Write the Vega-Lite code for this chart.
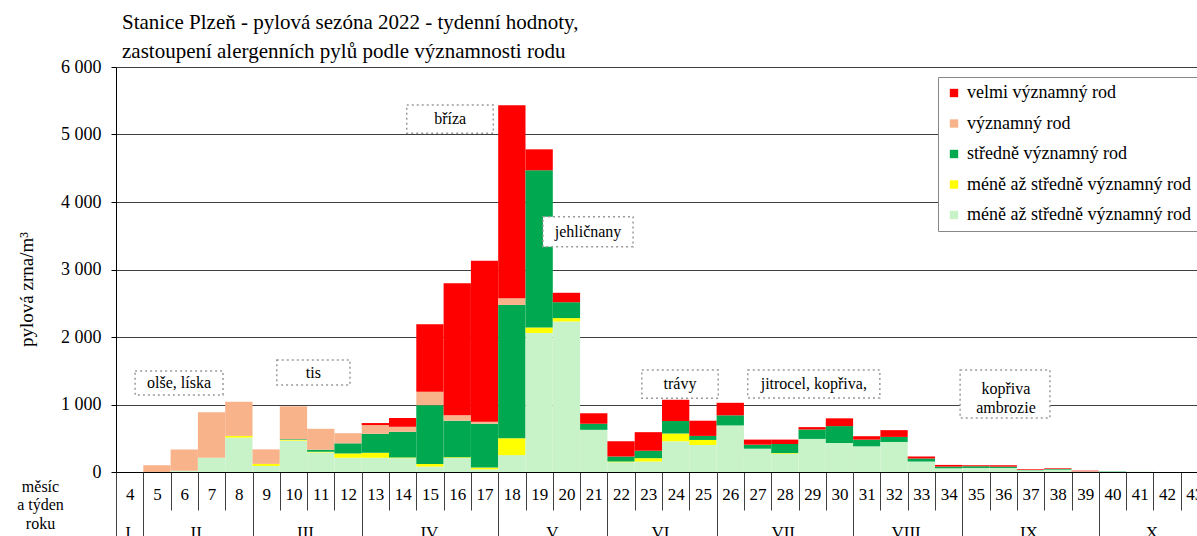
{
  "$schema": "https://vega.github.io/schema/vega-lite/v6.json",
  "autosize": {"type": "none"},
  "width": 1092,
  "height": 405,
  "padding": {"left": 116, "top": 67, "right": 0, "bottom": 64},
  "background": "white",
  "config": {
    "view": {"stroke": null},
    "font": "Liberation Serif",
    "axis": {"labelFont": "Liberation Serif", "titleFont": "Liberation Serif", "labelColor": "#000", "titleColor": "#000", "titleFontWeight": "normal"},
    "axisY": {
      "grid": true, "gridColor": "#404040", "gridWidth": 1,
      "tickSize": 5, "tickColor": "#000", "domainColor": "#000",
      "labelPadding": 10, "labelFontSize": 18,
      "titleFontSize": 19, "titleX": -84, "titleY": 222, "titleAngle": 270,
      "titleAlign": "center", "titleBaseline": "alphabetic"
    }
  },
  "title": {
    "text": ["Stanice Plzeň - pylová sezóna 2022 - tydenní hodnoty,", "zastoupení alergenních pylů podle významnosti rodu"],
    "anchor": "start", "frame": "group", "font": "Liberation Serif", "fontSize": 21, "fontWeight": "normal",
    "color": "#000", "dx": 6, "dy": 4, "offset": 0, "lineHeight": 29
  },
  "resolve": {"scale": {"x": "independent"}, "axis": {"x": "independent"}},
  "layer": [
    {
      "data": {"values": [
        {"w":4,"k1":0,"k2":0,"k3":0,"k4":0,"k5":0},
        {"w":5,"k1":0,"k2":0,"k3":0,"k4":100,"k5":0},
        {"w":6,"k1":20,"k2":0,"k3":0,"k4":315,"k5":0},
        {"w":7,"k1":210,"k2":0,"k3":0,"k4":675,"k5":0},
        {"w":8,"k1":510,"k2":25,"k3":0,"k4":505,"k5":0},
        {"w":9,"k1":90,"k2":30,"k3":0,"k4":215,"k5":0},
        {"w":10,"k1":465,"k2":10,"k3":10,"k4":490,"k5":0},
        {"w":11,"k1":290,"k2":10,"k3":30,"k4":310,"k5":0},
        {"w":12,"k1":210,"k2":65,"k3":150,"k4":150,"k5":0},
        {"w":13,"k1":210,"k2":75,"k3":280,"k4":130,"k5":30},
        {"w":14,"k1":205,"k2":10,"k3":380,"k4":75,"k5":130},
        {"w":15,"k1":80,"k2":40,"k3":870,"k4":200,"k5":1000},
        {"w":16,"k1":210,"k2":10,"k3":540,"k4":80,"k5":1955},
        {"w":17,"k1":40,"k2":25,"k3":650,"k4":30,"k5":2385},
        {"w":18,"k1":250,"k2":250,"k3":1975,"k4":100,"k5":2860},
        {"w":19,"k1":2060,"k2":80,"k3":2330,"k4":0,"k5":310},
        {"w":20,"k1":2230,"k2":50,"k3":235,"k4":0,"k5":140},
        {"w":21,"k1":625,"k2":0,"k3":90,"k4":0,"k5":155},
        {"w":22,"k1":145,"k2":10,"k3":75,"k4":0,"k5":224},
        {"w":23,"k1":155,"k2":50,"k3":110,"k4":0,"k5":275},
        {"w":24,"k1":455,"k2":115,"k3":185,"k4":0,"k5":315},
        {"w":25,"k1":400,"k2":75,"k3":60,"k4":0,"k5":225},
        {"w":26,"k1":690,"k2":0,"k3":150,"k4":0,"k5":185},
        {"w":27,"k1":345,"k2":0,"k3":60,"k4":0,"k5":75},
        {"w":28,"k1":270,"k2":10,"k3":135,"k4":0,"k5":65},
        {"w":29,"k1":490,"k2":0,"k3":140,"k4":0,"k5":35},
        {"w":30,"k1":430,"k2":0,"k3":250,"k4":0,"k5":115},
        {"w":31,"k1":380,"k2":0,"k3":100,"k4":0,"k5":50},
        {"w":32,"k1":445,"k2":0,"k3":75,"k4":0,"k5":100},
        {"w":33,"k1":155,"k2":0,"k3":45,"k4":0,"k5":30},
        {"w":34,"k1":55,"k2":0,"k3":25,"k4":0,"k5":25},
        {"w":35,"k1":60,"k2":0,"k3":25,"k4":0,"k5":15},
        {"w":36,"k1":60,"k2":0,"k3":20,"k4":0,"k5":20},
        {"w":37,"k1":25,"k2":0,"k3":5,"k4":0,"k5":10},
        {"w":38,"k1":35,"k2":0,"k3":10,"k4":0,"k5":10},
        {"w":39,"k1":10,"k2":0,"k3":0,"k4":0,"k5":10},
        {"w":40,"k1":5,"k2":0,"k3":5,"k4":0,"k5":0},
        {"w":41,"k1":3,"k2":0,"k3":2,"k4":0,"k5":0},
        {"w":42,"k1":0,"k2":0,"k3":0,"k4":0,"k5":0},
        {"w":43,"k1":0,"k2":0,"k3":0,"k4":0,"k5":0}
      ]},
      "transform": [{"fold": ["k1","k2","k3","k4","k5"], "as": ["cat","val"]}],
      "mark": {"type": "bar"},
      "encoding": {
        "x": {
          "field": "w", "type": "ordinal",
          "scale": {"domain": [4,5,6,7,8,9,10,11,12,13,14,15,16,17,18,19,20,21,22,23,24,25,26,27,28,29,30,31,32,33,34,35,36,37,38,39,40,41,42,43], "paddingInner": 0, "paddingOuter": 0},
          "axis": {
            "orient": "bottom", "tickBand": "extent", "tickSize": 38, "tickColor": "#404040", "domainColor": "#000",
            "labelPadding": -24, "labelFontSize": 17, "labelAngle": 0, "labelBaseline": "top",
            "title": ["měsíc", "a týden", "roku"], "titleX": -76, "titleY": 6, "titleAlign": "center", "titleBaseline": "top",
            "titleFontSize": 16, "titleLineHeight": 18.5, "titleAngle": 0
          }
        },
        "y": {
          "field": "val", "type": "quantitative", "stack": "zero",
          "scale": {"domain": [0, 6000], "nice": false},
          "axis": {"title": "pylová zrna/m³", "values": [0,1000,2000,3000,4000,5000,6000], "labelExpr": "replace(format(datum.value, ','), ',', ' ')"}
        },
        "color": {
          "field": "cat", "type": "nominal",
          "scale": {"domain": ["k5","k4","k3","k2","k1"], "range": ["#FF0000","#F9B38B","#00A84F","#FFFF00","#C8F2C8"]},
          "legend": {
            "orient": "top-right", "offset": 10, "title": null, "fillColor": "white", "strokeColor": "#888",
            "padding": 7, "symbolType": "square", "symbolSize": 70, "symbolStrokeWidth": 0,
            "labelFont": "Liberation Serif", "labelFontSize": 18, "labelColor": "#000", "rowPadding": 12.5,
            "labelLimit": 400, "labelOffset": 4,
            "labelExpr": "datum.label == 'k5' ? 'velmi významný rod' : datum.label == 'k4' ? 'významný rod' : datum.label == 'k3' ? 'středně významný rod' : 'méně až středně významný rod'"
          }
        },
        "order": {"field": "cat", "sort": "ascending"}
      }
    },
    {
      "data": {"name": "notes", "values": [
        {"label": "olše, líska", "x1": 4.20, "x2": 7.42, "y1": 1141, "y2": 1496, "tx": 5.81, "ty": 1320},
        {"label": "tis", "x1": 9.39, "x2": 12.07, "y1": 1289, "y2": 1659, "tx": 10.73, "ty": 1474},
        {"label": "bříza", "x1": 14.15, "x2": 17.32, "y1": 5017, "y2": 5437, "tx": 15.74, "ty": 5225},
        {"label": "jehličnany", "x1": 19.14, "x2": 22.44, "y1": 3338, "y2": 3782, "tx": 20.79, "ty": 3560},
        {"label": "trávy", "x1": 22.76, "x2": 25.56, "y1": 1091, "y2": 1511, "tx": 24.16, "ty": 1300},
        {"label": "jitrocel, kopřiva,", "x1": 26.64, "x2": 31.48, "y1": 1096, "y2": 1511, "tx": 29.06, "ty": 1300},
        {"label": "kopřiva\nambrozie", "x1": 34.42, "x2": 37.71, "y1": 800, "y2": 1511, "tx": 36.10, "ty": 1224}
      ]},
      "mark": {"type": "rect", "fill": "white", "stroke": "#9a9a9a", "strokeWidth": 1.5, "strokeDash": [2, 3]},
      "encoding": {
        "x": {
          "field": "x1", "type": "quantitative",
          "scale": {"domain": [3.5, 43.5], "nice": false, "zero": false},
          "axis": {
            "orient": "bottom", "values": [3.5,4.5,8.5,12.5,17.5,21.5,25.5,30.5,34.5,39.5],
            "tickSize": 70, "tickColor": "#404040", "labels": false, "domain": false, "grid": false, "title": null
          }
        },
        "x2": {"field": "x2"},
        "y": {"field": "y1", "type": "quantitative", "axis": {"title": "pylová zrna/m³", "values": [0,1000,2000,3000,4000,5000,6000], "labelExpr": "replace(format(datum.value, ','), ',', ' ')"}},
        "y2": {"field": "y2"}
      }
    },
    {
      "data": {"name": "notes"},
      "mark": {"type": "text", "font": "Liberation Serif", "fontSize": 16, "color": "#000", "align": "center", "baseline": "middle", "lineBreak": "\n", "lineHeight": 19},
      "encoding": {
        "x": {
          "field": "tx", "type": "quantitative",
          "scale": {"domain": [3.5, 43.5], "nice": false, "zero": false},
          "axis": {
            "orient": "bottom", "values": [4,6.5,10.5,15,19.5,23.5,28,32.5,37,41.5],
            "ticks": false, "tickSize": 0, "domain": false, "grid": false, "title": null,
            "labelPadding": 52, "labelFontSize": 17, "labelBaseline": "top", "labelFlush": false, "labelOverlap": false,
            "labelExpr": "datum.value == 4 ? 'I.' : datum.value == 6.5 ? 'II.' : datum.value == 10.5 ? 'III.' : datum.value == 15 ? 'IV.' : datum.value == 19.5 ? 'V.' : datum.value == 23.5 ? 'VI.' : datum.value == 28 ? 'VII.' : datum.value == 32.5 ? 'VIII.' : datum.value == 37 ? 'IX.' : 'X.'"
          }
        },
        "y": {"field": "ty", "type": "quantitative", "axis": {"title": "pylová zrna/m³", "values": [0,1000,2000,3000,4000,5000,6000], "labelExpr": "replace(format(datum.value, ','), ',', ' ')"}},
        "text": {"field": "label"}
      }
    }
  ]
}
